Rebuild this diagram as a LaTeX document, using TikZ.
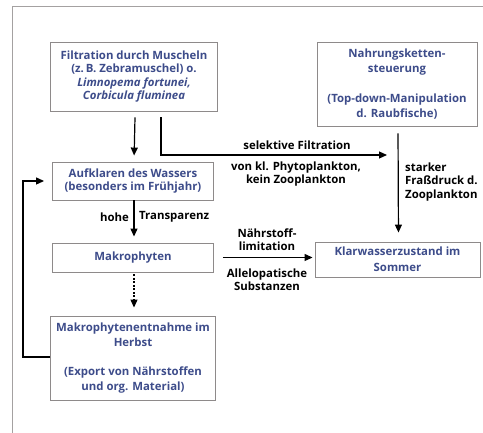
\documentclass[tikz,border=0pt]{standalone}
\usepackage{fontspec}
\setmainfont{Open Sans}
\usetikzlibrary{arrows.meta}
\definecolor{boxtext}{HTML}{3D4C8A}
\definecolor{boxline}{HTML}{8E8A8A}
\tikzset{
  box/.style={draw=boxline, line width=0.9pt, text=boxtext, align=center,
    font=\bfseries\fontsize{11.4}{13.3}\selectfont, inner sep=2pt},
  lbl/.style={text=black, align=center, font=\bfseries\fontsize{11.4}{13.3}\selectfont, inner sep=1pt},
  arr/.style={line width=1.2pt, -{Triangle[length=8pt,width=7pt]}}
}
\begin{document}
\begin{tikzpicture}
\useasboundingbox (0pt,0pt) rectangle (483pt,-433pt);
\draw[boxline!80, line width=1pt] (12pt,-433pt) -- (12pt,-7pt) -- (483pt,-7pt);
% boxes
\node[box, minimum width=167pt, minimum height=69pt] (filt) at (134pt,-76.5pt)
  {Filtration durch Muscheln\\(z.\,B. Zebramuschel) o.\\\textit{Limnopema fortunei,}\\\textit{Corbicula fluminea}};
\node[box, minimum width=160pt, minimum height=84pt, font=\bfseries\fontsize{11.4}{15}\selectfont] (nahr) at (397pt,-84pt)
  {Nahrungsketten-\\steuerung\\[15pt](Top-down-Manipulation\\d. Raubfische)};
\node[box, minimum width=161pt, minimum height=38pt] (aufk) at (133pt,-181pt)
  {Aufklaren des Wassers\\(besonders im Frühjahr)};
\node[box, minimum width=161pt, minimum height=29pt] (makro) at (133pt,-257.5pt) {Makrophyten};
\node[box, minimum width=165pt, minimum height=35pt, font=\bfseries\fontsize{11.4}{16}\selectfont] (klar) at (397.5pt,-259.5pt)
  {Klarwasserzustand im\\Sommer};
\node[box, minimum width=165pt, minimum height=84pt, font=\bfseries\fontsize{11.4}{15}\selectfont] (entn) at (133pt,-358pt)
  {Makrophytenentnahme im\\Herbst\\[14pt](Export von Nährstoffen\\und org. Material)};
% labels
\node[lbl] (selfilt) at (297pt,-145pt) {selektive Filtration};
\node[lbl] (phyto) at (296pt,-174pt) {von kl. Phytoplankton,\\kein Zooplankton};
\node[lbl, anchor=west, align=left] (frass) at (404pt,-182pt) {starker\\Fraßdruck d.\\Zooplankton};
\node[lbl, anchor=east] (hohe) at (130pt,-217pt) {hohe};
\node[lbl, anchor=west] (transp) at (138pt,-217pt) {Transparenz};
\node[lbl] (naehr) at (267pt,-240pt) {Nährstoff-\\limitation};
\node[lbl] (allelo) at (267pt,-280pt) {Allelopatische\\Substanzen};
% connectors
\coordinate (selend) at (387pt,-155pt);
\coordinate (loopx) at (23pt,-357pt);
\draw[arr, shorten >=6pt] ([xshift=1pt,yshift=-6pt]filt.south) -- ([xshift=1pt]aufk.north);
\draw[arr] ([xshift=27pt,yshift=-6pt]filt.south) |- (selend);
\draw[arr, shorten <=7pt, shorten >=9pt] ([xshift=1pt]nahr.south) -- ([xshift=1pt]klar.north);
\draw[arr, shorten >=6pt] ([xshift=1pt]aufk.south) -- ([xshift=1pt]makro.north);
\draw[arr, shorten <=9pt, shorten >=2pt] (makro.east) -- (klar.west |- makro.east);
\draw[arr, dashed, dash pattern=on 2pt off 1.5pt, shorten <=2pt, shorten >=8pt] ([xshift=1pt]makro.south) -- ([xshift=1pt]entn.north);
\draw[arr, shorten >=8pt] (entn.west |- loopx) -- (loopx) |- (aufk.west);
\end{tikzpicture}
\end{document}
